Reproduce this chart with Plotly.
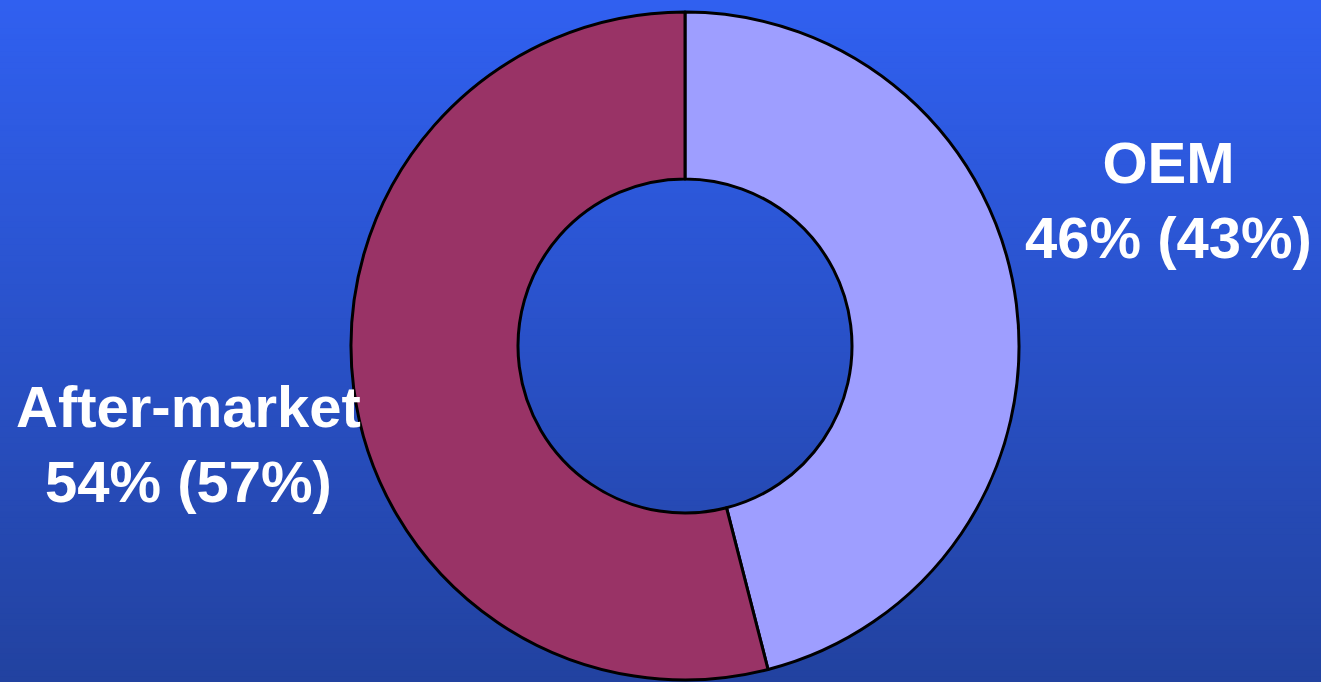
import plotly.graph_objects as go

labels = ["OEM", "After-market"]
values = [46, 54]
prior = [43, 57]
colors = ["#9e9eff", "#993366"]

W, H = 1321, 682
fig = go.Figure()

fig.add_trace(go.Pie(
    labels=labels, values=values, hole=0.5, sort=False, direction="clockwise",
    rotation=0, textinfo="none", hoverinfo="label+percent",
    marker=dict(colors=colors, line=dict(color="black", width=3)),
    domain=dict(x=[(685 - 334) / W, (685 + 334) / W], y=[1 - 680 / H, 1 - 12 / H]),
    showlegend=False,
))

# vertical gradient background bands
top = (48, 96, 240)
bot = (34, 66, 160)
n = 120
shapes = []
for i in range(n):
    t = i / (n - 1)
    c = tuple(round(top[k] + (bot[k] - top[k]) * t) for k in range(3))
    shapes.append(dict(type="rect", xref="paper", yref="paper", x0=0, x1=1,
                       y1=1 - i / n, y0=1 - (i + 1) / n - 0.002, line=dict(width=0),
                       fillcolor="rgb(%d,%d,%d)" % c, layer="below"))

font = dict(family="Liberation Sans, Arial, sans-serif", size=58, color="white")
ann = [
    dict(x=1168 / W, y=1 - 200 / H, text="<b>%s<br>%d%% (%d%%)</b>" % (labels[0], values[0], prior[0])),
    dict(x=188 / W, y=1 - 444 / H, text="<b>%s<br>%d%% (%d%%)</b>" % (labels[1], values[1], prior[1])),
]
for a in ann:
    a.update(xref="paper", yref="paper", showarrow=False, font=font,
             xanchor="center", yanchor="middle", align="center")

fig.update_layout(width=W, height=H, margin=dict(l=0, r=0, t=0, b=0),
                  paper_bgcolor="rgb(42,82,205)", plot_bgcolor="rgba(0,0,0,0)",
                  shapes=shapes, annotations=ann)
fig.write_html("out.html", config={"displayModeBar": False},
               post_script="document.body.style.margin='0px';document.body.style.overflow='hidden';")
